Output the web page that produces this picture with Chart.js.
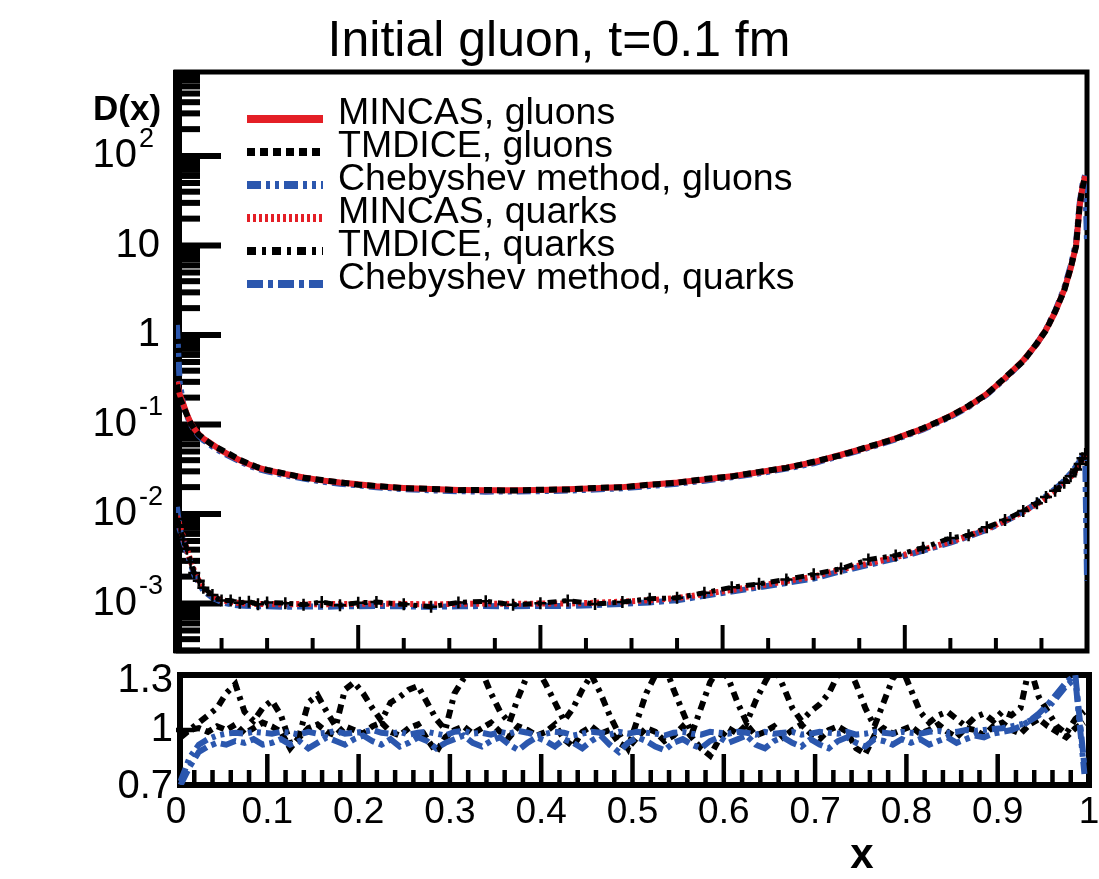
<!DOCTYPE html>
<html><head><meta charset="utf-8">
<script src="https://cdn.jsdelivr.net/npm/chart.js@4.4.1/dist/chart.umd.min.js"></script>
<style>
html,body{margin:0;padding:0;background:#fff;}
#wrap{position:relative;width:1099px;height:879px;overflow:hidden;background:#fff;}
canvas{position:absolute;left:0;top:0;}
</style></head><body>
<div id="wrap"><canvas id="cTop" width="1099" height="879"></canvas><canvas id="cBot" width="1099" height="879"></canvas></div>
<script>
// ---------- text ----------
const titleText = "Initial gluon, t=0.1 fm";
const yTitleText = "D(x)";
const xTitleText = "x";
const seriesNames = ["MINCAS, gluons","TMDICE, gluons","Chebyshev method, gluons","MINCAS, quarks","TMDICE, quarks","Chebyshev method, quarks"];

// ---------- upper panel data ----------
const xsUpper = [0.001,0.004,0.008,0.012,0.016,0.02,0.025,0.03,0.04,0.05,
 0.06,0.07,0.08,0.09,0.1,0.12,0.14,0.16,0.18,0.2,
 0.22,0.25,0.28,0.31,0.34,0.37,0.4,0.43,0.46,0.49,
 0.52,0.55,0.58,0.61,0.64,0.67,0.7,0.73,0.76,0.79,
 0.82,0.85,0.87,0.89,0.91,0.93,0.945,0.955,0.965,0.975,
 0.982,0.988,0.992,0.995,0.998,1.0];
const mincasGluons = [0.3,0.22,0.17,0.13,0.105,0.09,0.078,0.07,0.06,0.051,
 0.045,0.04,0.036,0.033,0.031,0.028,0.0257,0.0238,0.0225,0.0215,
 0.0205,0.0196,0.019,0.0186,0.0184,0.0184,0.0186,0.0189,0.0194,0.02,
 0.0212,0.0225,0.0243,0.0265,0.0293,0.033,0.038,0.046,0.056,0.07,
 0.09,0.125,0.16,0.22,0.33,0.52,0.8,1.15,1.8,3.2,
 5.5,10,28,45,60,null];
const tmdiceGluons = [0.28,0.2,0.16,0.128,0.104,0.09,0.077,0.07,0.059,0.052,
 0.046,0.0405,0.0365,0.0332,0.0312,0.0283,0.0255,0.024,0.0226,0.0213,
 0.0206,0.0195,0.0191,0.0185,0.0186,0.0183,0.0187,0.0188,0.0196,0.0199,
 0.0213,0.0224,0.0246,0.0263,0.0296,0.0328,0.0384,0.0455,0.0566,0.0695,
 0.091,0.124,0.162,0.218,0.335,0.51,0.81,1.13,1.83,3.15,
 5.6,9.8,28.5,44,60,null];
const chebGluons = [1.3,0.3,0.165,0.126,0.101,0.087,0.075,0.067,0.057,0.049,
 0.0435,0.0388,0.0348,0.0319,0.03,0.0271,0.0249,0.0231,0.0218,0.0209,
 0.0199,0.019,0.0184,0.018,0.0178,0.0179,0.018,0.0183,0.0188,0.0194,
 0.0206,0.0218,0.0236,0.0258,0.0285,0.0322,0.037,0.045,0.0548,0.0685,
 0.088,0.122,0.157,0.216,0.325,0.515,0.8,1.16,1.85,3.35,
 5.9,10.8,30,48,62,11];
const mincasQuarks = [0.0095,0.0075,0.0055,0.004,0.003,0.0023,0.0018,0.00148,0.00122,0.0011,
 0.00104,0.00101,0.001,0.00099,0.00099,0.00098,0.00099,0.00098,0.00099,0.00099,
 0.001,0.00099,0.00098,0.00099,0.001,0.00099,0.001,0.001,0.00102,0.00105,
 0.00109,0.00115,0.00128,0.00142,0.00158,0.00178,0.002,0.0024,0.0028,0.0033,
 0.004,0.0049,0.0057,0.0068,0.0084,0.0106,0.013,0.0152,0.018,0.022,
 0.026,0.031,0.036,0.041,0.046,null];
const tmdiceQuarks = [0.0088,0.0072,0.0052,0.0041,0.0029,0.0022,0.0018,0.0015,0.00125,0.00108,
 0.00108,0.00102,0.00105,0.00098,0.00103,0.00101,0.00097,0.00104,0.00096,0.00102,
 0.00104,0.00098,0.00092,0.00103,0.00106,0.00097,0.00101,0.00108,0.00099,0.00104,
 0.00113,0.00116,0.00132,0.00152,0.00166,0.00186,0.00212,0.00246,0.0031,0.00345,
 0.0042,0.0054,0.0058,0.0071,0.0086,0.0108,0.0132,0.0155,0.0182,0.0224,
 0.0265,0.0315,0.0362,0.042,0.047,null];
const chebQuarks = [0.012,0.0068,0.005,0.0037,0.0028,0.0021,0.0017,0.0014,0.00116,0.00104,
 0.00098,0.00095,0.00094,0.00093,0.00093,0.00092,0.00093,0.00092,0.00093,0.00093,
 0.00094,0.00093,0.00092,0.00093,0.00094,0.00093,0.00094,0.00094,0.00096,0.00099,
 0.00103,0.00109,0.00122,0.00136,0.00152,0.0017,0.0019,0.0023,0.0027,0.0032,
 0.0039,0.0048,0.0056,0.0067,0.0083,0.0106,0.0133,0.0158,0.019,0.0236,
 0.0285,0.034,0.039,0.044,0.047,0.0018];

// ---------- ratio panel data ----------
const xsRatio = [0.005,0.015,0.025,0.035,0.045,0.055,0.065,0.075,0.085,0.095,
 0.105,0.115,0.125,0.135,0.145,0.155,0.165,0.175,0.185,0.195,
 0.205,0.215,0.225,0.235,0.245,0.255,0.265,0.275,0.285,0.295,
 0.305,0.315,0.325,0.335,0.345,0.355,0.365,0.375,0.385,0.395,
 0.405,0.415,0.425,0.435,0.445,0.455,0.465,0.475,0.485,0.495,
 0.505,0.515,0.525,0.535,0.545,0.555,0.565,0.575,0.585,0.595,
 0.605,0.615,0.625,0.635,0.645,0.655,0.665,0.675,0.685,0.695,
 0.705,0.715,0.725,0.735,0.745,0.755,0.765,0.775,0.785,0.795,
 0.805,0.815,0.825,0.835,0.845,0.855,0.865,0.875,0.885,0.895,
 0.905,0.915,0.925,0.935,0.945,0.955,0.965,0.975,0.985,0.995];
const ratioTmdiceGluons = [0.98,1.0,1.01,0.99,1.02,1.0,1.03,0.98,1.01,1.04,
 1.02,0.99,0.9,0.96,1.01,1.03,0.99,0.97,1.02,1.0,
 0.98,1.02,1.04,0.99,0.97,1.01,1.03,0.95,0.88,0.96,
 1.0,1.02,0.98,1.01,1.04,0.99,0.96,1.02,1.0,0.97,
 0.99,1.03,0.95,0.91,0.99,1.02,0.98,1.0,0.93,0.9,
 0.96,1.01,0.99,0.94,0.97,1.02,0.96,0.9,0.86,0.95,
 1.01,0.98,1.03,0.97,0.99,1.02,0.96,1.0,1.03,0.98,
 0.95,1.0,1.02,0.99,0.9,0.87,0.97,1.01,0.98,1.0,
 1.02,0.98,1.0,1.03,0.99,0.96,1.01,1.0,0.97,1.02,
 1.04,1.0,0.98,1.03,1.06,1.02,0.99,0.96,1.01,1.04];
const ratioTmdiceQuarks = [0.96,1.0,1.04,1.08,1.12,1.2,1.25,1.1,1.05,1.12,
 1.16,1.08,0.93,0.97,1.15,1.19,1.1,1.02,1.22,1.26,
 1.2,1.12,1.05,1.15,1.18,1.22,1.24,1.15,1.06,1.0,
 1.2,1.28,1.33,1.32,1.2,1.1,1.04,1.18,1.3,1.34,
 1.25,1.15,1.05,1.12,1.22,1.3,1.2,1.08,0.98,0.9,
 1.05,1.2,1.3,1.36,1.22,1.1,0.98,1.12,1.26,1.34,
 1.28,1.15,1.04,1.16,1.26,1.35,1.24,1.12,1.05,1.1,
 1.14,1.2,1.3,1.36,1.25,1.12,1.02,1.15,1.28,1.34,
 1.22,1.1,1.04,1.08,1.1,1.06,1.02,1.07,1.09,1.05,
 1.1,1.08,1.12,1.35,1.18,1.1,1.02,0.98,1.06,1.1];
const ratioChebGluons = [0.72,0.85,0.92,0.95,0.97,0.98,0.985,0.98,0.99,0.985,
 0.98,0.99,0.985,0.975,0.99,0.98,0.985,0.995,0.98,0.985,
 0.99,1.0,0.985,0.98,0.99,0.975,0.985,0.99,0.98,0.97,
 0.99,0.995,0.98,0.985,0.975,0.99,0.98,0.995,0.985,0.97,
 0.98,0.99,0.985,0.97,0.98,0.99,0.985,0.975,0.99,0.98,
 0.99,0.985,0.98,0.97,0.985,0.99,0.98,0.975,0.99,0.985,
 0.98,0.99,0.985,0.975,0.99,0.98,0.985,0.99,0.975,0.98,
 0.99,0.985,0.98,0.99,0.975,0.98,0.99,0.985,0.98,0.99,
 0.985,0.98,0.99,0.995,0.985,0.99,1.0,0.995,1.0,1.005,
 1.01,1.02,1.03,1.05,1.08,1.12,1.18,1.24,1.28,0.76];
const ratioChebQuarks = [0.70,0.8,0.88,0.91,0.93,0.92,0.94,0.93,0.95,0.92,
 0.93,0.95,0.92,0.94,0.9,0.93,0.96,0.94,0.92,0.95,
 0.97,0.94,0.92,0.95,0.91,0.93,0.96,0.94,0.9,0.93,
 0.95,0.97,0.93,0.91,0.94,0.96,0.92,0.89,0.93,0.96,
 0.94,0.91,0.95,0.93,0.9,0.94,0.97,0.92,0.88,0.93,
 0.96,0.94,0.91,0.89,0.93,0.95,0.92,0.9,0.94,0.96,
 0.93,0.95,0.97,0.92,0.9,0.94,0.96,0.93,0.91,0.95,
 0.92,0.9,0.94,0.96,0.93,0.91,0.95,0.94,0.92,0.95,
 0.93,0.95,0.92,0.94,0.96,0.93,0.95,0.97,0.96,0.98,
 0.99,1.0,1.02,1.05,1.09,1.14,1.2,1.26,1.3,0.8];

// ---------- ticks ----------
const upperYTickLabels = ["10^-3","10^-2","10^-1","1","10","10^2"];
const upperYTickValues = [0.001,0.01,0.1,1,10,100];
const ratioYTickLabels = ["0.7","1","1.3"];
const ratioYTickValues = [0.7,1,1.3];
const xTickLabels = ["0","0.1","0.2","0.3","0.4","0.5","0.6","0.7","0.8","0.9","1"];
const xTickValues = [0,0.1,0.2,0.3,0.4,0.5,0.6,0.7,0.8,0.9,1];

// ---------- styles ----------
const RED = '#e41f26', BLACK = '#000000', BLUE = '#2b57ae';
const FONT = '"Liberation Sans", Arial, Helvetica, sans-serif';
const styles = [
  {color:RED, dash:[]},
  {color:BLACK, dash:[8,5]},
  {color:BLUE, dash:[14,5,4,5,4,5]},
  {color:RED, dash:[3,3]},
  {color:BLACK, dash:[9,6,4,6]},
  {color:BLUE, dash:[16,5,5,5]}
];

function pts(xs, ys){ return xs.map((x,i)=>({x:x, y:ys[i]})); }
function ds(label, xs, ys, st, w, marker){
  const o = {label:label, data:pts(xs,ys), borderColor:st.color, backgroundColor:st.color,
    borderDash:st.dash, borderWidth:w, pointRadius:0, tension:0, fill:false, spanGaps:false, borderCapStyle:'butt'};
  if(marker){ o.pointStyle='cross'; o.pointRadius=6; o.pointBorderWidth=2.5; o.pointBorderColor=st.color; }
  return o;
}

function line(ctx,x1,y1,x2,y2){ ctx.beginPath(); ctx.moveTo(x1,y1); ctx.lineTo(x2,y2); ctx.stroke(); }

// power labels: base ends at fixed x, exponent to its right; plain labels right-aligned
function drawYLabel(ctx, label, yMid, size){
  const m = label.match(/^(\d+)\^(-?\d+)$/);
  ctx.fillStyle = '#000'; ctx.textBaseline = 'middle';
  if(!m){ ctx.font = size+'px '+FONT; ctx.textAlign='right'; ctx.fillText(label, 160, yMid); return; }
  ctx.font = size+'px '+FONT; ctx.textAlign='right';
  ctx.fillText(m[1], 137, yMid);
  ctx.font = Math.round(size*0.68)+'px '+FONT; ctx.textAlign='left';
  ctx.fillText(m[2], 139, yMid - size*0.42);
}

// ---------- upper panel decorations ----------
const topDecor = {
  id:'topDecor',
  beforeDatasetsDraw(chart){
    const ctx = chart.ctx, a = chart.chartArea, xs = chart.scales.x, ys = chart.scales.y;
    ctx.save();
    ctx.strokeStyle = '#000'; ctx.lineCap = 'butt'; ctx.setLineDash([]);
    ctx.lineWidth = 6;
    for(let e=-4;e<=3;e++){
      for(let k=1;k<=9;k++){
        const v = k*Math.pow(10,e);
        if(v < ys.min || v > ys.max) continue;
        const py = ys.getPixelForValue(v);
        line(ctx, a.left, py, a.left + (k===1 ? 45 : 24), py);
      }
    }
    ctx.lineWidth = 4;
    for(let i=1;i<20;i++){
      const v = i*0.05, px = xs.getPixelForValue(v);
      const len = (i%4===0) ? 26 : 13;
      line(ctx, px, a.bottom, px, a.bottom - len);
    }
    ctx.lineWidth = 5;
    ctx.strokeRect(a.left, a.top, a.right-a.left, a.bottom-a.top);
    ctx.fillStyle = '#000';
    ctx.fillRect(a.left-3, a.top-2, 9, a.bottom-a.top+4);
    ctx.restore();
  },
  afterDraw(chart){
    const ctx = chart.ctx, ys = chart.scales.y;
    ctx.save();
    upperYTickLabels.forEach((lab,i)=>{
      drawYLabel(ctx, lab, ys.getPixelForValue(upperYTickValues[i]), 40);
    });
    ctx.fillStyle = '#000';
    ctx.font = 'bold 35px '+FONT; ctx.textAlign='left'; ctx.textBaseline='middle';
    ctx.fillText(yTitleText, 93, 110);
    ctx.font = '50px '+FONT; ctx.textAlign='center'; ctx.textBaseline='alphabetic';
    ctx.fillText(titleText, 559, 56);
    const rowY = [119,152,185,218,251,284];
    seriesNames.forEach((name,i)=>{
      const st = styles[i];
      ctx.strokeStyle = st.color; ctx.lineWidth = 8; ctx.lineCap='butt'; ctx.setLineDash(st.dash);
      line(ctx, 247, rowY[i], 323, rowY[i]);
      ctx.setLineDash([]);
      ctx.fillStyle = '#000'; ctx.font = '37.5px '+FONT; ctx.textAlign='left'; ctx.textBaseline='middle';
      ctx.fillText(name, 338, rowY[i]-5);
    });
    ctx.restore();
  }
};

// ---------- ratio panel decorations ----------
const botDecor = {
  id:'botDecor',
  beforeDatasetsDraw(chart){
    const ctx = chart.ctx, a = chart.chartArea, xs = chart.scales.x, ys = chart.scales.y;
    ctx.save();
    ctx.strokeStyle = '#000'; ctx.lineCap='butt'; ctx.setLineDash([]);
    ctx.lineWidth = 4.5;
    for(let i=1;i<50;i++){
      const v = i*0.02, px = xs.getPixelForValue(v);
      const len = (i%5===0) ? 31 : 15;
      line(ctx, px, a.bottom, px, a.bottom - len);
    }
    line(ctx, a.left, ys.getPixelForValue(1), a.left+18, ys.getPixelForValue(1));
    ctx.lineWidth = 6;
    ctx.strokeRect(a.left+4, a.top, a.right-a.left-4, a.bottom-a.top);
    ctx.restore();
  },
  afterDraw(chart){
    const ctx = chart.ctx, xs = chart.scales.x, ys = chart.scales.y;
    ctx.save();
    ctx.fillStyle='#000'; ctx.font = '40px '+FONT; ctx.textAlign='right'; ctx.textBaseline='middle';
    ratioYTickLabels.forEach((lab,i)=>{
      let py = ys.getPixelForValue(ratioYTickValues[i]);
      if(i===2) py += 6;
      if(i===0) py += 2;
      ctx.fillText(lab, 173, py);
    });
    ctx.font = '37px '+FONT;
    ctx.textAlign='center';
    xTickLabels.forEach((lab,i)=>{ ctx.fillText(lab, xs.getPixelForValue(xTickValues[i]), 813); });
    ctx.font = 'bold 42px '+FONT;
    ctx.fillText(xTitleText, 862, 856);
    ctx.restore();
  }
};

const common = {
  responsive:false, animation:false, devicePixelRatio:1, events:[],
  plugins:{legend:{display:false}, tooltip:{enabled:false}, title:{display:false}}
};

new Chart(document.getElementById('cTop'), {
  type:'line',
  data:{datasets:[
    ds(seriesNames[1], xsUpper, tmdiceGluons, styles[1], 6),
    ds(seriesNames[4], xsUpper, tmdiceQuarks, styles[4], 5, true),
    ds(seriesNames[0], xsUpper, mincasGluons, styles[0], 6),
    ds(seriesNames[3], xsUpper, mincasQuarks, styles[3], 6),
    ds(seriesNames[2], xsUpper, chebGluons, styles[2], 6),
    ds(seriesNames[5], xsUpper, chebQuarks, styles[5], 6)
  ]},
  options:Object.assign({}, common, {
    layout:{padding:{left:176, right:12, top:72, bottom:228}},
    scales:{
      x:{type:'linear', min:0, max:1, bounds:'data', display:false},
      y:{type:'logarithmic', min:0.000295, max:870, bounds:'data', display:false}
    }
  }),
  plugins:[topDecor]
});

new Chart(document.getElementById('cBot'), {
  type:'line',
  data:{datasets:[
    ds("Chebyshev/MINCAS, gluons", xsRatio, ratioChebGluons, styles[2], 6),
    ds("Chebyshev/MINCAS, quarks", xsRatio, ratioChebQuarks, styles[5], 6),
    ds("TMDICE/MINCAS, gluons", xsRatio, ratioTmdiceGluons, styles[1], 6),
    ds("TMDICE/MINCAS, quarks", xsRatio, ratioTmdiceQuarks, styles[4], 6)
  ]},
  options:Object.assign({}, common, {
    layout:{padding:{left:176, right:10, top:675, bottom:94}},
    scales:{
      x:{type:'linear', min:0, max:1, bounds:'data', display:false},
      y:{type:'linear', min:0.7, max:1.3, bounds:'data', display:false}
    }
  }),
  plugins:[botDecor]
});
</script>
</body></html>
